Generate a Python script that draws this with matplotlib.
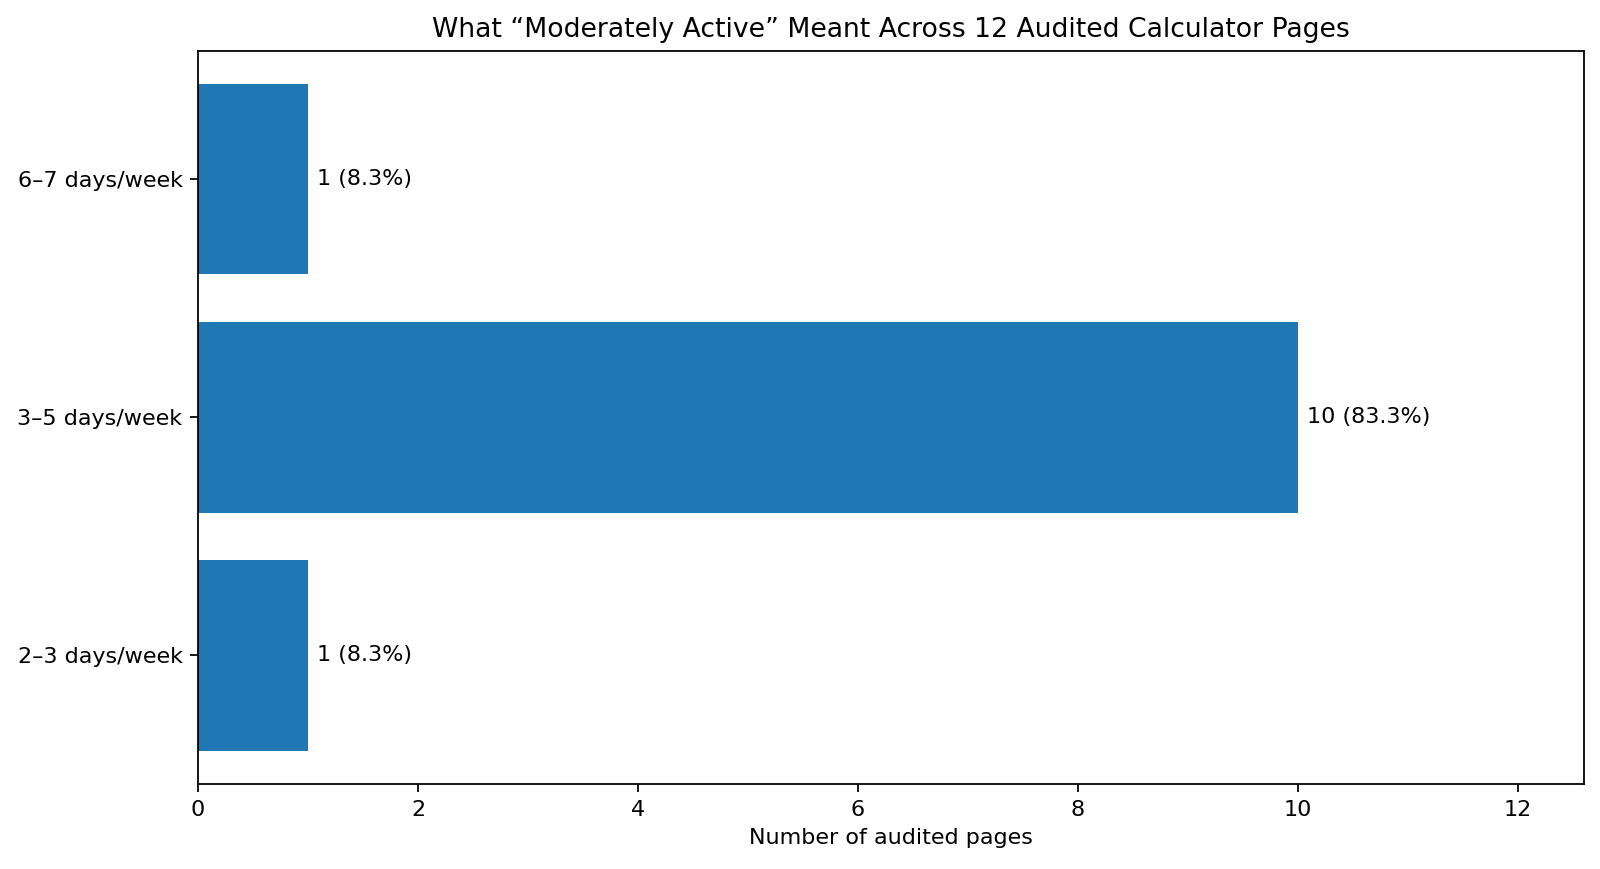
import matplotlib
matplotlib.use("Agg")
import matplotlib.pyplot as plt

# Activity definitions found on the audited pages
categories = ["2–3 days/week", "3–5 days/week", "6–7 days/week"]
counts = [1, 10, 1]
total_pages = 12

fig, ax = plt.subplots(figsize=(10, 5.43125), dpi=160)
bars = ax.barh(categories, counts, color="#1f77b4")

labels = [f"{c} ({c / total_pages * 100:.1f}%)" for c in counts]
ax.bar_label(bars, labels=labels, padding=4)

ax.set_xlim(0, total_pages * 1.05)
ax.set_xlabel("Number of audited pages")
ax.set_title("What \u201cModerately Active\u201d Meant Across 12 Audited Calculator Pages")

fig.subplots_adjust(left=0.1238, right=0.99, top=0.9417, bottom=0.0978)
plt.savefig("out.png")
plt.close()
